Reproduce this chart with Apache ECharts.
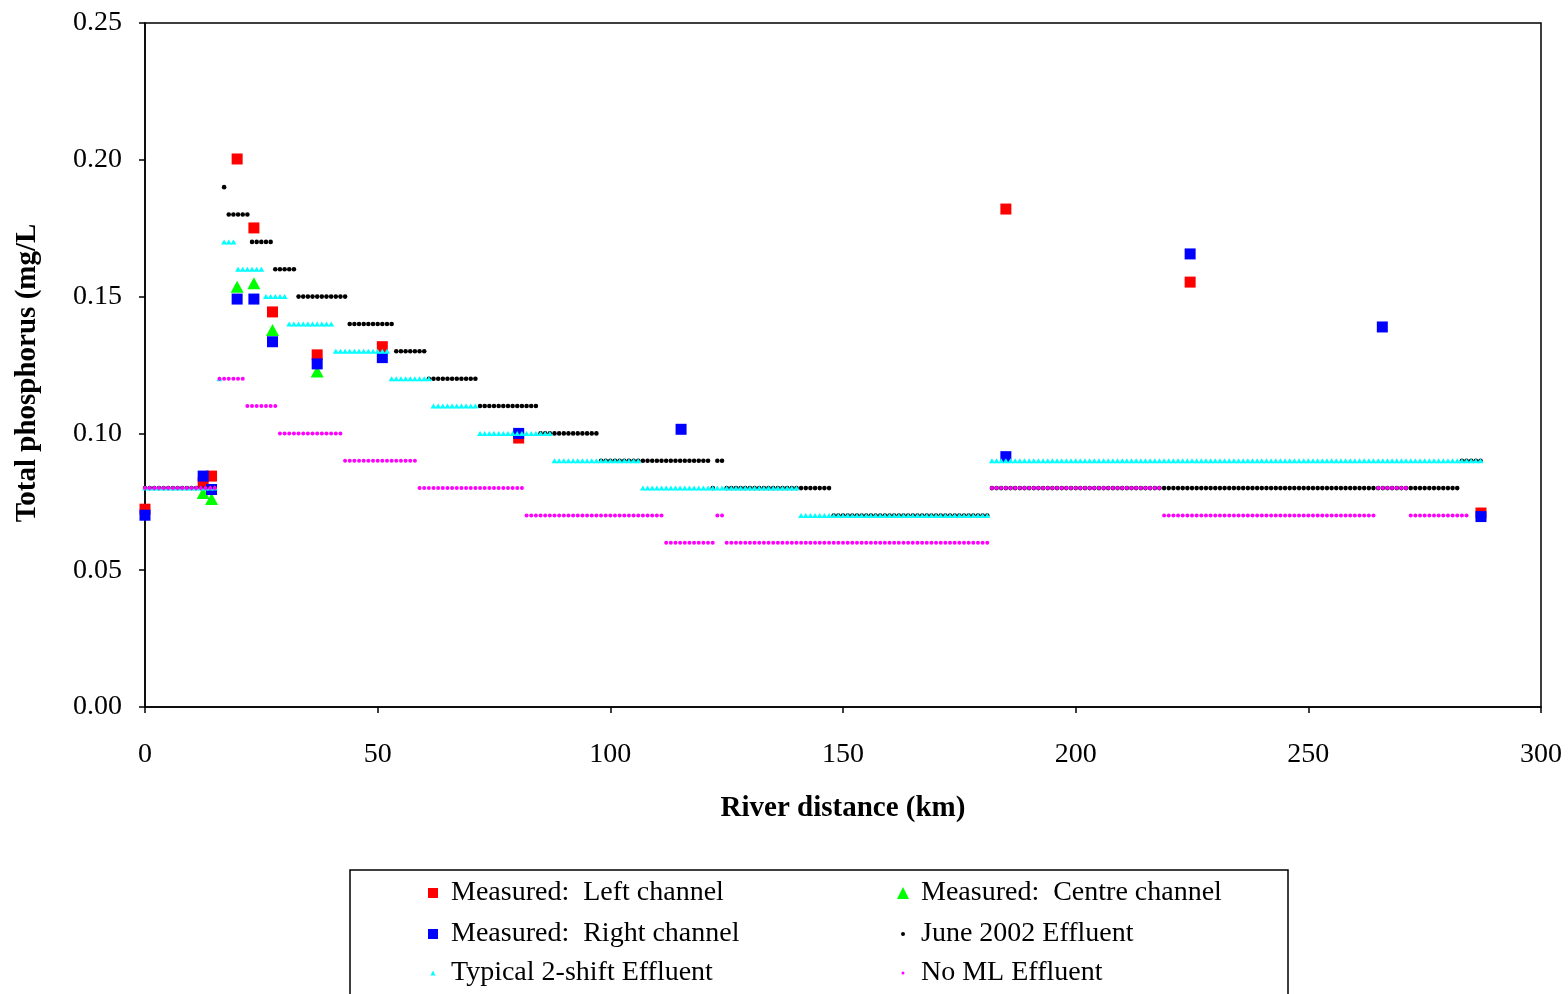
<!DOCTYPE html>
<html>
<head>
<meta charset="utf-8">
<script src="https://cdn.jsdelivr.net/npm/echarts@6/dist/echarts.min.js"></script>
<style>
  html, body { margin: 0; padding: 0; background: #fff; }
  #chart { width: 1568px; height: 994px; }
</style>
</head>
<body>
<div id="chart"></div>
<script>
// ---- Measured total phosphorus (mg/L) at sampling sites, by river distance (km) ----
const leftKm   = [0, 12.5, 14.3, 19.8, 23.4, 27.4, 37.0, 51.0, 80.3, 185.0, 224.6, 287.1];
const leftTP   = [0.0723, 0.0820, 0.0844, 0.2003, 0.1751, 0.1444, 0.1287, 0.1317, 0.0983, 0.1820, 0.1553, 0.0709];

const centreKm = [12.5, 14.3, 19.8, 23.4, 27.4, 37.0];
const centreTP = [0.0782, 0.0760, 0.1536, 0.1549, 0.1378, 0.1226];

const rightKm  = [0, 12.5, 14.3, 19.8, 23.4, 27.4, 37.0, 51.0, 80.3, 115.2, 185.0, 224.6, 265.9, 287.1];
const rightTP  = [0.0701, 0.0844, 0.0795, 0.1491, 0.1491, 0.1335, 0.1254, 0.1277, 0.1000, 0.1015, 0.0915, 0.1656, 0.1389, 0.0696];

// ---- Model output, one value per km of river (index = km), null = no output ----
const MODEL_STEP_KM = 1;

const june2002Effluent = [
  0.08,0.08,0.08,0.08,0.08,0.08,0.08,0.08,0.08,0.08,   // 0
  0.08,0.08,0.08,0.08,0.08,0.08,null,0.19,0.18,0.18,   // 10
  0.18,0.18,0.18,0.17,0.17,0.17,0.17,0.17,0.16,0.16,   // 20
  0.16,0.16,0.16,0.15,0.15,0.15,0.15,0.15,0.15,0.15,   // 30
  0.15,0.15,0.15,0.15,0.14,0.14,0.14,0.14,0.14,0.14,   // 40
  0.14,0.14,0.14,0.14,0.13,0.13,0.13,0.13,0.13,0.13,   // 50
  0.13,0.12,0.12,0.12,0.12,0.12,0.12,0.12,0.12,0.12,   // 60
  0.12,0.12,0.11,0.11,0.11,0.11,0.11,0.11,0.11,0.11,   // 70
  0.11,0.11,0.11,0.11,0.11,0.10,0.10,0.10,0.10,0.10,   // 80
  0.10,0.10,0.10,0.10,0.10,0.10,0.10,0.10,0.09,0.09,   // 90
  0.09,0.09,0.09,0.09,0.09,0.09,0.09,0.09,0.09,0.09,   // 100
  0.09,0.09,0.09,0.09,0.09,0.09,0.09,0.09,0.09,0.09,   // 110
  0.09,0.09,0.08,0.09,0.09,0.08,0.08,0.08,0.08,0.08,   // 120
  0.08,0.08,0.08,0.08,0.08,0.08,0.08,0.08,0.08,0.08,   // 130
  0.08,0.08,0.08,0.08,0.08,0.08,0.08,0.08,0.07,0.07,   // 140
  0.07,0.07,0.07,0.07,0.07,0.07,0.07,0.07,0.07,0.07,   // 150
  0.07,0.07,0.07,0.07,0.07,0.07,0.07,0.07,0.07,0.07,   // 160
  0.07,0.07,0.07,0.07,0.07,0.07,0.07,0.07,0.07,0.07,   // 170
  0.07,0.07,0.08,0.08,0.08,0.08,0.08,0.08,0.08,0.08,   // 180
  0.08,0.08,0.08,0.08,0.08,0.08,0.08,0.08,0.08,0.08,   // 190
  0.08,0.08,0.08,0.08,0.08,0.08,0.08,0.08,0.08,0.08,   // 200
  0.08,0.08,0.08,0.08,0.08,0.08,0.08,0.08,0.08,0.08,   // 210
  0.08,0.08,0.08,0.08,0.08,0.08,0.08,0.08,0.08,0.08,   // 220
  0.08,0.08,0.08,0.08,0.08,0.08,0.08,0.08,0.08,0.08,   // 230
  0.08,0.08,0.08,0.08,0.08,0.08,0.08,0.08,0.08,0.08,   // 240
  0.08,0.08,0.08,0.08,0.08,0.08,0.08,0.08,0.08,0.08,   // 250
  0.08,0.08,0.08,0.08,0.08,0.08,0.08,0.08,0.08,0.08,   // 260
  0.08,0.08,0.08,0.08,0.08,0.08,0.08,0.08,0.08,0.08,   // 270
  0.08,0.08,0.08,0.09,0.09,0.09,0.09,0.09              // 280
];

const typical2ShiftEffluent = [
  0.08,0.08,0.08,0.08,0.08,0.08,0.08,0.08,0.08,0.08,   // 0
  0.08,0.08,0.08,0.08,0.08,0.08,0.12,0.17,0.17,0.17,   // 10
  0.16,0.16,0.16,0.16,0.16,0.16,0.15,0.15,0.15,0.15,   // 20
  0.15,0.14,0.14,0.14,0.14,0.14,0.14,0.14,0.14,0.14,   // 30
  0.14,0.13,0.13,0.13,0.13,0.13,0.13,0.13,0.13,0.13,   // 40
  0.13,0.13,0.13,0.12,0.12,0.12,0.12,0.12,0.12,0.12,   // 50
  0.12,0.12,0.11,0.11,0.11,0.11,0.11,0.11,0.11,0.11,   // 60
  0.11,0.11,0.10,0.10,0.10,0.10,0.10,0.10,0.10,0.10,   // 70
  0.10,0.10,0.10,0.10,0.10,0.10,0.10,0.10,0.09,0.09,   // 80
  0.09,0.09,0.09,0.09,0.09,0.09,0.09,0.09,0.09,0.09,   // 90
  0.09,0.09,0.09,0.09,0.09,0.09,0.09,0.08,0.08,0.08,   // 100
  0.08,0.08,0.08,0.08,0.08,0.08,0.08,0.08,0.08,0.08,   // 110
  0.08,0.08,0.08,0.08,0.08,0.08,0.08,0.08,0.08,0.08,   // 120
  0.08,0.08,0.08,0.08,0.08,0.08,0.08,0.08,0.08,0.08,   // 130
  0.08,0.07,0.07,0.07,0.07,0.07,0.07,0.07,0.07,0.07,   // 140
  0.07,0.07,0.07,0.07,0.07,0.07,0.07,0.07,0.07,0.07,   // 150
  0.07,0.07,0.07,0.07,0.07,0.07,0.07,0.07,0.07,0.07,   // 160
  0.07,0.07,0.07,0.07,0.07,0.07,0.07,0.07,0.07,0.07,   // 170
  0.07,0.07,0.09,0.09,0.09,0.09,0.09,0.09,0.09,0.09,   // 180
  0.09,0.09,0.09,0.09,0.09,0.09,0.09,0.09,0.09,0.09,   // 190
  0.09,0.09,0.09,0.09,0.09,0.09,0.09,0.09,0.09,0.09,   // 200
  0.09,0.09,0.09,0.09,0.09,0.09,0.09,0.09,0.09,0.09,   // 210
  0.09,0.09,0.09,0.09,0.09,0.09,0.09,0.09,0.09,0.09,   // 220
  0.09,0.09,0.09,0.09,0.09,0.09,0.09,0.09,0.09,0.09,   // 230
  0.09,0.09,0.09,0.09,0.09,0.09,0.09,0.09,0.09,0.09,   // 240
  0.09,0.09,0.09,0.09,0.09,0.09,0.09,0.09,0.09,0.09,   // 250
  0.09,0.09,0.09,0.09,0.09,0.09,0.09,0.09,0.09,0.09,   // 260
  0.09,0.09,0.09,0.09,0.09,0.09,0.09,0.09,0.09,0.09,   // 270
  0.09,0.09,0.09,0.09,0.09,0.09,0.09,0.09              // 280
];

const noMLEffluent = [
  0.08,0.08,0.08,0.08,0.08,0.08,0.08,0.08,0.08,0.08,   // 0
  0.08,0.08,0.08,0.08,0.08,0.08,0.12,0.12,0.12,0.12,   // 10
  0.12,0.12,0.11,0.11,0.11,0.11,0.11,0.11,0.11,0.10,   // 20
  0.10,0.10,0.10,0.10,0.10,0.10,0.10,0.10,0.10,0.10,   // 30
  0.10,0.10,0.10,0.09,0.09,0.09,0.09,0.09,0.09,0.09,   // 40
  0.09,0.09,0.09,0.09,0.09,0.09,0.09,0.09,0.09,0.08,   // 50
  0.08,0.08,0.08,0.08,0.08,0.08,0.08,0.08,0.08,0.08,   // 60
  0.08,0.08,0.08,0.08,0.08,0.08,0.08,0.08,0.08,0.08,   // 70
  0.08,0.08,0.07,0.07,0.07,0.07,0.07,0.07,0.07,0.07,   // 80
  0.07,0.07,0.07,0.07,0.07,0.07,0.07,0.07,0.07,0.07,   // 90
  0.07,0.07,0.07,0.07,0.07,0.07,0.07,0.07,0.07,0.07,   // 100
  0.07,0.07,0.06,0.06,0.06,0.06,0.06,0.06,0.06,0.06,   // 110
  0.06,0.06,0.06,0.07,0.07,0.06,0.06,0.06,0.06,0.06,   // 120
  0.06,0.06,0.06,0.06,0.06,0.06,0.06,0.06,0.06,0.06,   // 130
  0.06,0.06,0.06,0.06,0.06,0.06,0.06,0.06,0.06,0.06,   // 140
  0.06,0.06,0.06,0.06,0.06,0.06,0.06,0.06,0.06,0.06,   // 150
  0.06,0.06,0.06,0.06,0.06,0.06,0.06,0.06,0.06,0.06,   // 160
  0.06,0.06,0.06,0.06,0.06,0.06,0.06,0.06,0.06,0.06,   // 170
  0.06,0.06,0.08,0.08,0.08,0.08,0.08,0.08,0.08,0.08,   // 180
  0.08,0.08,0.08,0.08,0.08,0.08,0.08,0.08,0.08,0.08,   // 190
  0.08,0.08,0.08,0.08,0.08,0.08,0.08,0.08,0.08,0.08,   // 200
  0.08,0.08,0.08,0.08,0.08,0.08,0.08,0.08,0.08,0.07,   // 210
  0.07,0.07,0.07,0.07,0.07,0.07,0.07,0.07,0.07,0.07,   // 220
  0.07,0.07,0.07,0.07,0.07,0.07,0.07,0.07,0.07,0.07,   // 230
  0.07,0.07,0.07,0.07,0.07,0.07,0.07,0.07,0.07,0.07,   // 240
  0.07,0.07,0.07,0.07,0.07,0.07,0.07,0.07,0.07,0.07,   // 250
  0.07,0.07,0.07,0.07,0.07,0.08,0.08,0.08,0.08,0.08,   // 260
  0.08,0.08,0.07,0.07,0.07,0.07,0.07,0.07,0.07,0.07,   // 270
  0.07,0.07,0.07,0.07,0.07,null,null,null              // 280
];

// Axis ticks
const xTicks = [0, 50, 100, 150, 200, 250, 300];
const yTicks = [0.00, 0.05, 0.10, 0.15, 0.20, 0.25];

// ---- helpers ----
const pairs = (xs, ys) => xs.map((x, i) => [x, ys[i]]);
const modelPoints = vals => vals
  .map((v, i) => [i * MODEL_STEP_KM, v])
  .filter(p => p[1] !== null);

const SERIF = '"Liberation Serif", "Times New Roman", serif';

const seriesDefs = [
  { name: 'Measured:  Left channel',   data: pairs(leftKm, leftTP),     color: '#FF0000', symbol: 'rect',     size: 11,     legendSize: [10, 10], legendAt: [433, 893] },
  { name: 'Measured:  Centre channel', data: pairs(centreKm, centreTP), color: '#00FF00', symbol: 'triangle', size: [13, 12], legendSize: [12, 12], legendAt: [903, 893] },
  { name: 'Measured:  Right channel',  data: pairs(rightKm, rightTP),   color: '#0000FF', symbol: 'rect',     size: 11,     legendSize: [10, 10], legendAt: [433, 934] },
  { name: 'June 2002 Effluent',        data: modelPoints(june2002Effluent),      color: '#000000', symbol: 'circle',   size: 4.6,    legendSize: [4, 4],   legendAt: [903, 934] },
  { name: 'Typical 2-shift Effluent',  data: modelPoints(typical2ShiftEffluent), color: '#00FFFF', symbol: 'triangle', size: [6, 5], legendSize: [5, 5],   legendAt: [433, 973] },
  { name: 'No ML Effluent',            data: modelPoints(noMLEffluent),          color: '#FF00FF', symbol: 'circle',   size: 4,      legendSize: [3, 3],   legendAt: [903, 973] }
];

const LEGEND_FONT = 28;

const chart = echarts.init(document.getElementById('chart'), null, { renderer: 'canvas' });

chart.setOption({
  backgroundColor: '#ffffff',
  animation: false,
  textStyle: { fontFamily: SERIF, color: '#000' },
  grid: {
    left: 145, top: 23, right: 27, bottom: 287,
    show: true, borderColor: '#000', borderWidth: 1.5,
    backgroundColor: 'transparent',
    containLabel: false, outerBoundsMode: 'none'
  },
  xAxis: {
    type: 'value',
    min: xTicks[0], max: xTicks[xTicks.length - 1],
    interval: xTicks[1] - xTicks[0],
    name: 'River distance (km)',
    nameLocation: 'middle',
    nameGap: 87,
    nameMoveOverlap: false,
    nameTextStyle: { fontFamily: SERIF, fontSize: 29, fontWeight: 'bold', color: '#000', lineHeight: 29 },
    axisLine: { show: true, onZero: false, lineStyle: { color: '#000', width: 1.5 } },
    axisTick: { show: true, inside: false, length: 6, lineStyle: { color: '#000', width: 1.5 } },
    axisLabel: { show: true, margin: 34, fontFamily: SERIF, fontSize: 28, color: '#000', lineHeight: 28 },
    splitLine: { show: false }
  },
  yAxis: {
    type: 'value',
    min: yTicks[0], max: yTicks[yTicks.length - 1],
    interval: yTicks[1] - yTicks[0],
    name: 'Total phosphorus (mg/L',
    nameLocation: 'middle',
    nameRotate: 90,
    nameGap: 103,
    nameMoveOverlap: false,
    nameTextStyle: { fontFamily: SERIF, fontSize: 29, fontWeight: 'bold', color: '#000', lineHeight: 29, padding: [0, 16, 0, 0] },
    axisLine: { show: true, onZero: false, lineStyle: { color: '#000', width: 1.5 } },
    axisTick: { show: true, inside: false, length: 6, lineStyle: { color: '#000', width: 1.5 } },
    axisLabel: {
      show: true, margin: 23, fontFamily: SERIF, fontSize: 28, color: '#000',
      formatter: v => v.toFixed(2)
    },
    splitLine: { show: false }
  },
  legend: seriesDefs.map(s => ({
    data: [{ name: s.name, icon: s.symbol }],
    left: s.legendAt[0] - s.legendSize[0] / 2,
    top: s.legendAt[1] - LEGEND_FONT / 2,
    itemWidth: s.legendSize[0],
    itemHeight: s.legendSize[1],
    itemGap: 0,
    padding: 0,
    selectedMode: false,
    textStyle: {
      fontFamily: SERIF, fontSize: LEGEND_FONT, color: '#000', lineHeight: LEGEND_FONT,
      padding: [0, 0, 0, 13 - s.legendSize[0] / 2]
    }
  })),
  graphic: [{
    type: 'rect',
    shape: { x: 350, y: 870, width: 938, height: 160 },
    style: { fill: 'none', stroke: '#000', lineWidth: 1.5 },
    silent: true
  }],
  series: seriesDefs.map(s => ({
    type: 'scatter',
    name: s.name,
    data: s.data,
    symbol: s.symbol,
    symbolSize: s.size,
    itemStyle: { color: s.color, opacity: 1 },
    emphasis: { disabled: true },
    clip: false
  }))
});
</script>
</body>
</html>
